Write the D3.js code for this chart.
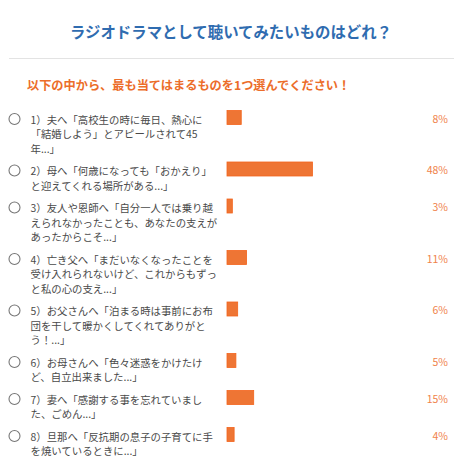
<!DOCTYPE html>
<html>
<head>
<meta charset="utf-8">
<script src="https://cdn.jsdelivr.net/npm/d3@7"></script>
<style>
  body { margin: 0; background: #fff; }
  svg { display: block; font-family: "Noto Sans CJK JP", "Noto Sans", sans-serif; }
</style>
</head>
<body>
<script>
// 設問テキスト
var title = "ラジオドラマとして聴いてみたいものはどれ？";
var subtitle = "以下の中から、最も当てはまるものを1つ選んでください！";

// 選択肢（改行済み）
var choices = [
    ["1）夫へ「高校生の時に毎日、熱心に", "「結婚しよう」とアピールされて45", "年...」"],
    ["2）母へ「何歳になっても「おかえり」", "と迎えてくれる場所がある...」"],
    ["3）友人や恩師へ「自分一人では乗り越", "えられなかったことも、あなたの支えが", "あったからこそ...」"],
    ["4）亡き父へ「まだいなくなったことを", "受け入れられないけど、これからもずっ", "と私の心の支え...」"],
    ["5）お父さんへ「泊まる時は事前にお布", "団を干して暖かくしてくれてありがと", "う！...」"],
    ["6）お母さんへ「色々迷惑をかけたけ", "ど、自立出来ました...」"],
    ["7）妻へ「感謝する事を忘れていまし", "た、ごめん...」"],
    ["8）旦那へ「反抗期の息子の子育てに手", "を焼いているときに...」"]
];

// 回答率（%）
var percents = [8, 48, 3, 11, 6, 5, 15, 4];

var width = 463;
var height = 470;
var lineH = 14.5;
var rowGap = 8;

var svg = d3.select("body").append("svg")
    .attr("width", width)
    .attr("height", height);

// タイトル
svg.append("text")
    .attr("x", 231)
    .attr("y", 31)
    .attr("text-anchor", "middle")
    .attr("dominant-baseline", "central")
    .style("font-size", "15.4px")
    .style("font-weight", "bold")
    .style("fill", "#2f6cb0")
    .text(title);

svg.append("line")
    .attr("x1", 9).attr("x2", 454)
    .attr("y1", 58.5).attr("y2", 58.5)
    .style("stroke", "#e3e3e3")
    .style("stroke-width", 1);

svg.append("text")
    .attr("x", 27)
    .attr("y", 85)
    .attr("dominant-baseline", "central")
    .style("font-size", "12.2px")
    .style("font-weight", "bold")
    .style("fill", "#ec6d2a")
    .text(subtitle);

// 各行の位置を行数から計算
var rowY = [];
var y0 = 119;
choices.forEach(function(c) {
    rowY.push(y0);
    y0 += c.length * lineH + rowGap;
});

// バーの長さのスケール
var x = d3.scaleLinear()
    .domain([0, 100])
    .range([0, 178]);

var barX = 227;
var barH = 14;

var rows = svg.selectAll("g.row")
    .data(choices)
    .enter().append("g")
    .attr("class", "row")
    .attr("transform", function(d, i) { return "translate(0," + rowY[i] + ")"; });

rows.append("circle")
    .attr("cx", 14.5)
    .attr("cy", 0)
    .attr("r", 5.5)
    .style("fill", "#fff")
    .style("stroke", "#777")
    .style("stroke-width", 1.1);

rows.append("text")
    .attr("x", 30.5)
    .style("font-size", "10.4px")
    .style("fill", "#4a4a4a")
    .selectAll("tspan")
    .data(function(d) { return d; })
    .enter().append("tspan")
    .attr("x", 30.5)
    .attr("y", function(d, i) { return i * lineH; })
    .attr("dominant-baseline", "central")
    .text(function(d) { return d; });

rows.append("rect")
    .attr("x", barX)
    .attr("y", -1.5 - barH / 2)
    .attr("width", function(d, i) { return x(percents[i]); })
    .attr("height", barH)
    .style("fill", "#ee7534")
    .style("stroke", "#f3641c")
    .style("stroke-width", 0.8);

rows.append("text")
    .attr("x", 448)
    .attr("y", -1)
    .attr("text-anchor", "end")
    .attr("dominant-baseline", "central")
    .style("font-size", "10.5px")
    .style("fill", "#f0824a")
    .text(function(d, i) { return percents[i] + "%"; });
</script>
</body>
</html>
